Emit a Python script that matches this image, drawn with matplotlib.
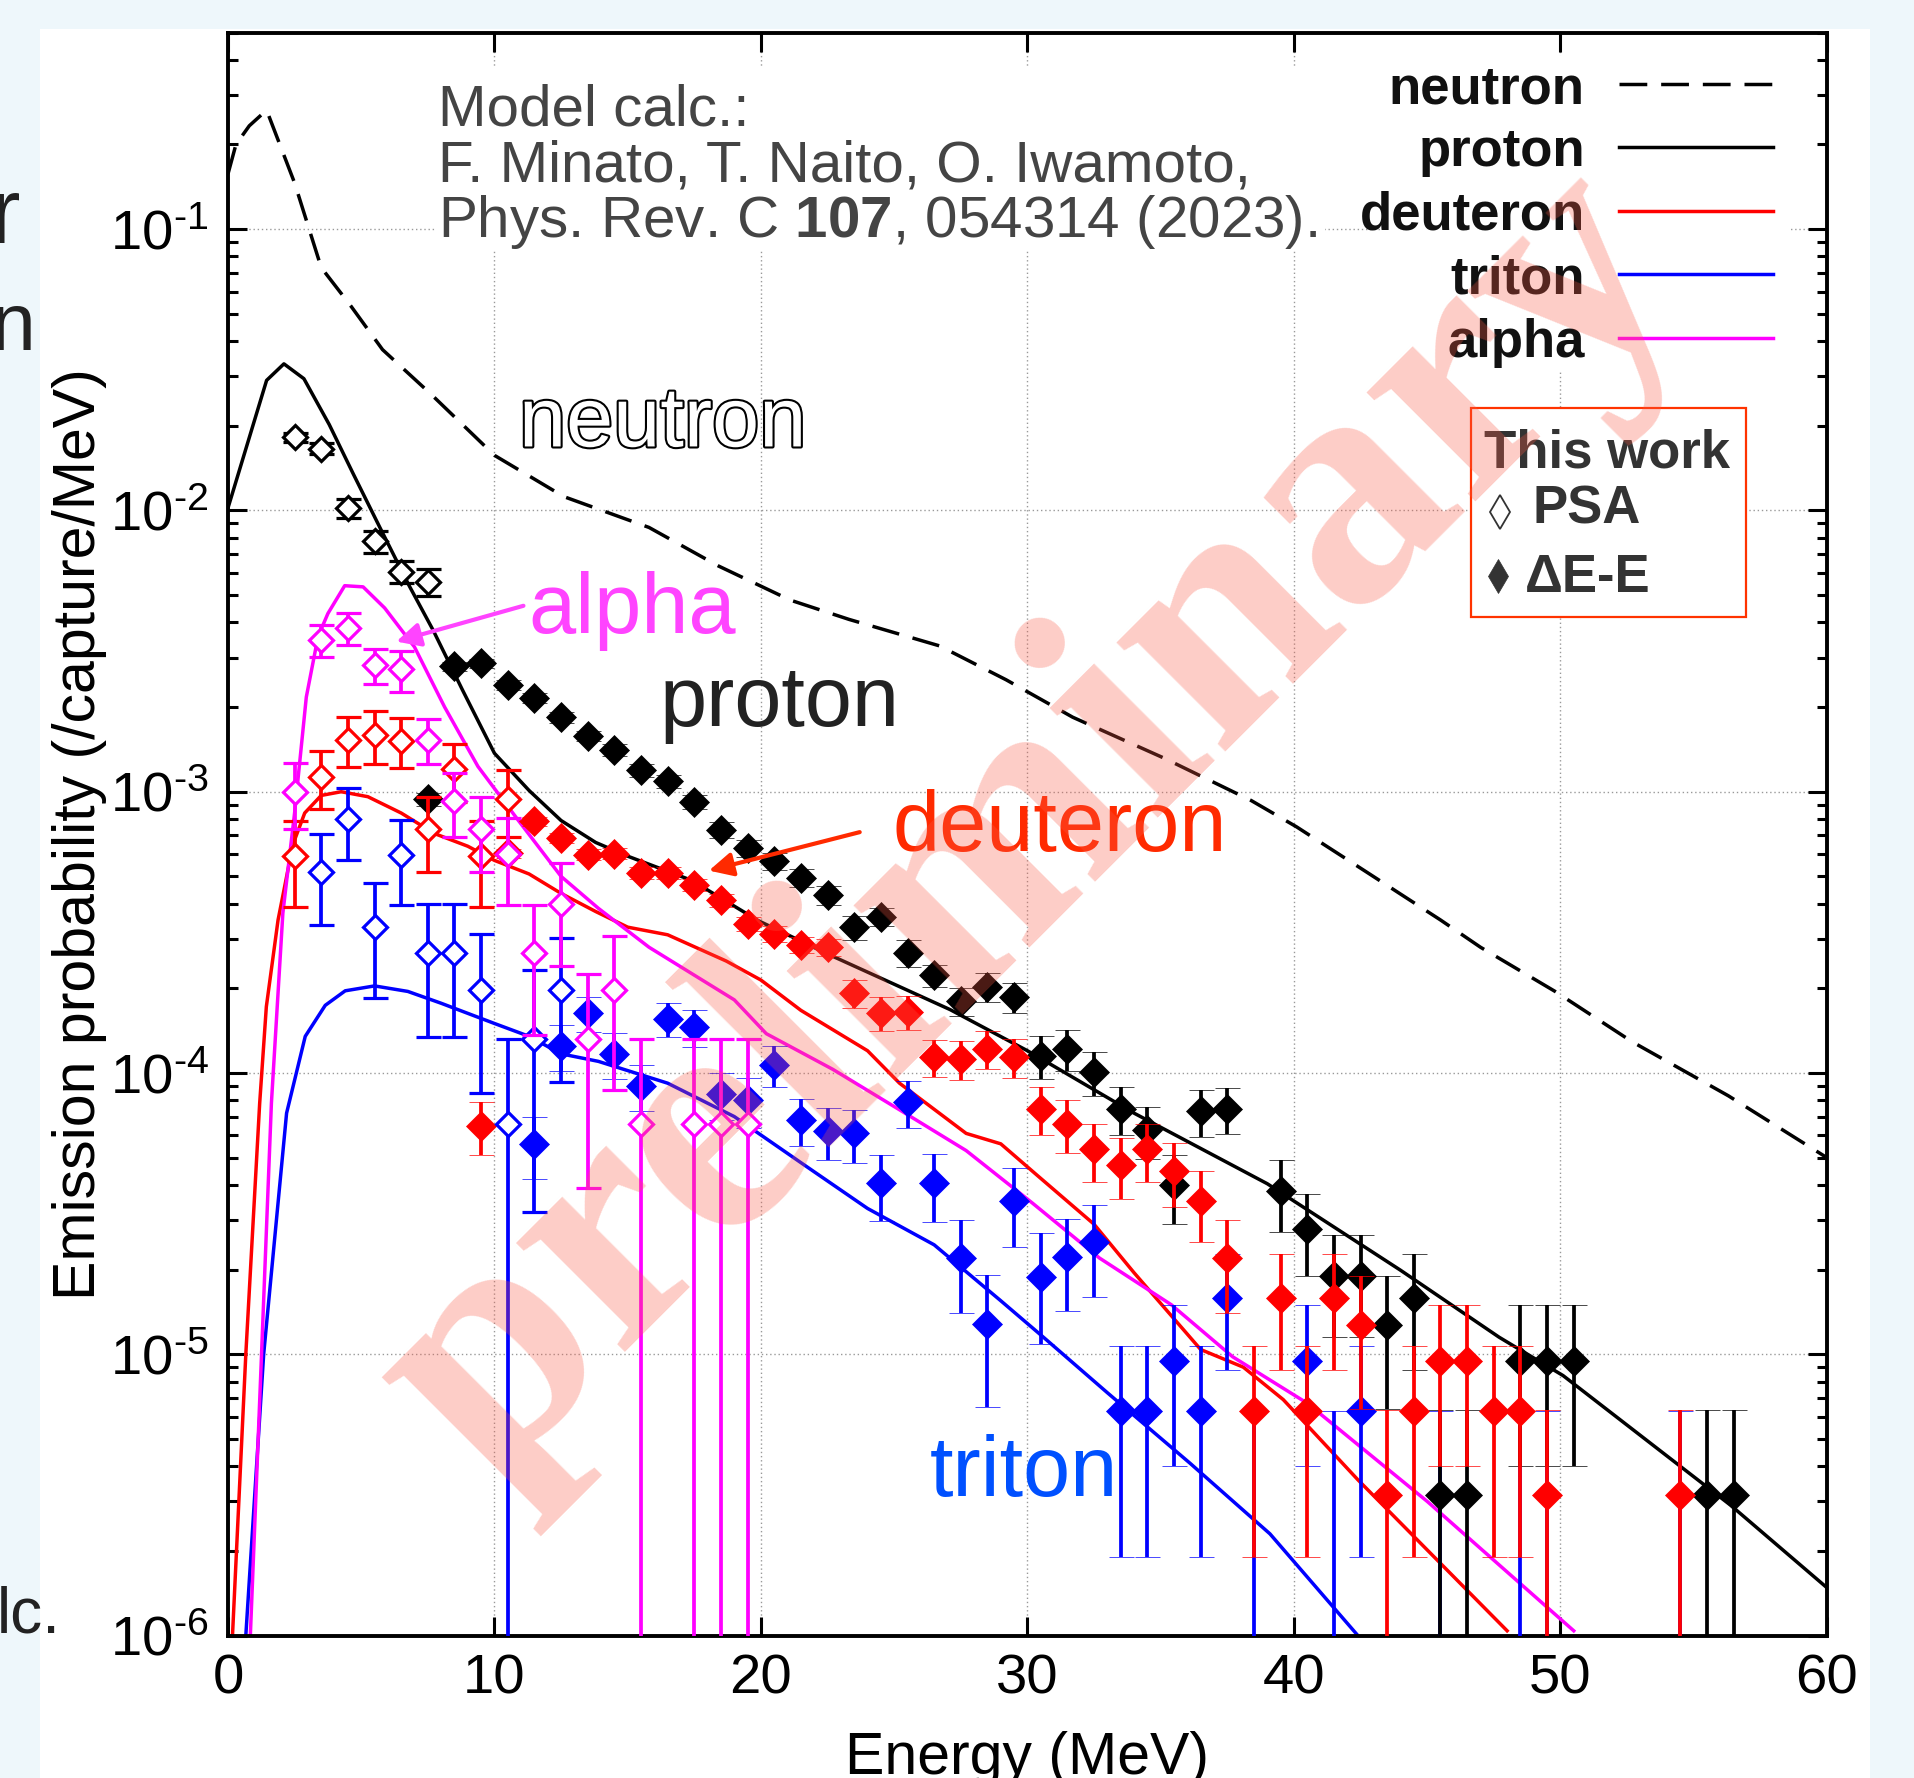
import numpy as np
import matplotlib
matplotlib.use('Agg')
import matplotlib.pyplot as plt
from matplotlib.patches import Rectangle
import matplotlib.patheffects as pe
from matplotlib.ticker import LogLocator, MultipleLocator, NullLocator, FuncFormatter

plt.rcParams['font.family'] = ['Liberation Sans', 'DejaVu Sans']
plt.rcParams['axes.unicode_minus'] = False
plt.rcParams['mathtext.fontset'] = 'custom'
plt.rcParams['mathtext.rm'] = 'Liberation Sans'
plt.rcParams['mathtext.bf'] = 'Liberation Sans:bold'

# ==========================================
# model calculation curves
# ==========================================
neutron_E = [0.0, 0.3, 0.8, 1.45, 2.5, 3.5, 4.6, 5.8, 7.6, 10.0, 12.6, 15.8, 18.4, 21.1, 23.3,
             26.7, 29.2, 31.7, 35.1, 38.4, 40.1, 42.7, 45.5, 47.0, 49.8, 52.7, 56.3, 60.0]
neutron_y = [0.157, 0.20, 0.233, 0.265, 0.146, 0.073, 0.0535, 0.0373, 0.026, 0.0157, 0.0112,
             0.0087, 0.00635, 0.0048, 0.0041, 0.0033, 0.0025, 0.00184, 0.00132, 0.00093,
             0.00075, 0.00052, 0.00035, 0.00028, 0.000195, 0.000129, 0.000083, 0.00005]

proton_E = [0.0, 1.45, 2.1, 2.85, 3.8, 4.7, 5.7, 6.8, 7.7, 8.8, 10.0, 11.3, 12.5, 13.8, 15.0,
            17.4, 19.9, 22.5, 27.1, 30.0, 34.0, 39.0, 44.0, 47.7, 50.1, 56.4, 60.0]
proton_y = [0.0102, 0.029, 0.0332, 0.0294, 0.0202, 0.0135, 0.0087, 0.0054, 0.00375, 0.0023,
            0.00137, 0.00101, 0.00079, 0.00066, 0.00059, 0.000484, 0.000348, 0.000265,
            0.000168, 0.00012, 7.2e-5, 4.04e-5, 1.99e-5, 1.15e-5, 8.4e-6, 2.9e-6, 1.48e-6]

deut_E = [0.17, 0.67, 1.19, 1.44, 1.88, 2.44, 2.88, 3.5, 4.25, 5.25, 6.5, 7.75, 9.0, 10.0, 11.3,
          12.5, 13.8, 15.0, 16.5, 18.7, 20.0, 21.5, 24.0, 25.2, 27.7, 29.0, 30.4, 32.5, 34.0,
          36.5, 38.1, 39.6, 42.4, 48.0]
deut_y = [1e-6, 1.0e-5, 7.8e-5, 1.72e-4, 3.5e-4, 6.5e-4, 8.4e-4, 9.7e-4, 1.0e-3, 9.6e-4, 8.4e-4,
          7.1e-4, 6.4e-4, 5.7e-4, 5.1e-4, 4.35e-4, 3.75e-4, 3.3e-4, 3.1e-4, 2.5e-4, 2.14e-4,
          1.67e-4, 1.2e-4, 9.2e-5, 6.1e-5, 5.6e-5, 4.3e-5, 2.9e-5, 1.95e-5, 1.04e-5, 9.0e-6,
          6.9e-6, 3.58e-6, 1.04e-6]

trit_E = [0.67, 1.34, 2.2, 2.9, 3.65, 4.4, 5.5, 6.75, 8.0, 10.0, 11.3, 12.5, 13.9, 15.0, 16.5,
          19.0, 21.5, 24.0, 26.5, 29.0, 30.6, 33.0, 36.1, 39.1, 42.4]
trit_y = [1e-6, 1e-5, 7.2e-5, 1.35e-4, 1.74e-4, 1.96e-4, 2.04e-4, 1.95e-4, 1.77e-4, 1.5e-4,
          1.35e-4, 1.17e-4, 1.1e-4, 1.02e-4, 9.2e-5, 7.0e-5, 4.8e-5, 3.3e-5, 2.45e-5, 1.55e-5,
          1.15e-5, 7.3e-6, 4.1e-6, 2.3e-6, 1.0e-6]

alpha_E = [0.84, 1.26, 1.63, 2.06, 2.5, 2.94, 3.38, 3.75, 4.38, 5.07, 5.88, 7.0, 8.13, 9.38,
           10.9, 12.5, 13.9, 15.8, 19.0, 20.2, 22.7, 25.2, 27.7, 30.2, 32.7, 35.4, 37.7, 40.5,
           45.0, 50.5]
alpha_y = [1e-6, 1e-5, 7.8e-5, 3.7e-4, 8.4e-4, 2.17e-3, 3.56e-3, 4.3e-3, 5.4e-3, 5.35e-3, 4.5e-3,
           3.27e-3, 2.0e-3, 1.23e-3, 7.9e-4, 5.0e-4, 3.85e-4, 2.8e-4, 1.82e-4, 1.38e-4, 1.03e-4,
           7.4e-5, 5.3e-5, 3.44e-5, 2.2e-5, 1.5e-5, 9.8e-6, 6.7e-6, 3.0e-6, 1.04e-6]

# ==========================================
# this work: PSA (open symbols)
# ==========================================
psa_p_E = [2.5, 3.5, 4.5, 5.5, 6.5, 7.5]
psa_p_y = [0.0182, 0.0166, 0.0102, 0.00776, 0.00605, 0.00557]
psa_p_err = [0.0007, 0.0007, 0.0008, 0.0007, 0.00055, 0.0006]

psa_d_E = [2.5, 3.5, 4.5, 5.5, 6.5, 7.5, 8.5, 9.5, 10.5]
psa_d_y = [5.9e-4, 1.13e-3, 1.53e-3, 1.59e-3, 1.52e-3, 7.4e-4, 1.2e-3, 5.9e-4, 9.4e-4]
psa_d_err = [2.0e-4, 2.6e-4, 3.1e-4, 3.4e-4, 3.1e-4, 2.2e-4, 2.8e-4, 2.0e-4, 2.5e-4]

psa_t_E = [3.5, 4.5, 5.5, 6.5, 7.5, 8.5, 9.5, 10.5, 11.5, 12.5]
psa_t_y = [5.2e-4, 8.0e-4, 3.3e-4, 5.95e-4, 2.67e-4, 2.67e-4, 1.98e-4, 6.6e-5, 1.32e-4, 1.98e-4]
psa_t_err = [1.85e-4, 2.3e-4, 1.45e-4, 2.0e-4, 1.33e-4, 1.33e-4, 1.13e-4, 6.6e-5, 1.0e-4, 1.05e-4]

psa_a_E = [2.5, 3.5, 4.5, 5.5, 6.5, 7.5, 8.5, 9.5, 10.5, 11.5, 12.5, 13.5, 14.5, 15.5, 17.5,
           18.5, 19.5]
psa_a_y = [1.0e-3, 3.47e-3, 3.83e-3, 2.82e-3, 2.72e-3, 1.53e-3, 9.3e-4, 7.4e-4, 6.0e-4, 2.67e-4,
           4.0e-4, 1.32e-4, 1.97e-4, 6.6e-5, 6.6e-5, 6.6e-5, 6.6e-5]
psa_a_err = [2.6e-4, 4.6e-4, 5.0e-4, 4.0e-4, 4.5e-4, 2.8e-4, 2.4e-4, 2.2e-4, 2.05e-4, 1.3e-4,
             1.6e-4, 9.3e-5, 1.1e-4, 6.6e-5, 6.6e-5, 6.6e-5, 6.6e-5]

# ==========================================
# this work: dE-E (filled symbols)
# ==========================================
dee_p_E = [7.5, 8.5, 9.5, 10.5, 11.5, 12.5, 13.5, 14.5, 15.5, 16.5, 17.5, 18.5, 19.5, 20.5, 21.5,
           22.5, 23.5, 24.5, 25.5, 26.5, 27.5, 28.5, 29.5, 30.5, 31.5, 32.5, 33.5, 34.5, 35.5,
           36.5, 37.5, 39.5, 40.5, 41.5, 42.5, 43.5, 44.5, 45.5, 46.5, 48.5, 49.5, 50.5, 55.5,
           56.5]
dee_p_y = [9.4e-4, 2.79e-3, 2.86e-3, 2.4e-3, 2.15e-3, 1.84e-3, 1.58e-3, 1.41e-3, 1.19e-3,
           1.09e-3, 9.2e-4, 7.3e-4, 6.3e-4, 5.65e-4, 4.95e-4, 4.3e-4, 3.3e-4, 3.6e-4, 2.68e-4,
           2.23e-4, 1.8e-4, 2.03e-4, 1.86e-4, 1.15e-4, 1.22e-4, 1.01e-4, 7.45e-5, 6.25e-5,
           4.0e-5, 7.3e-5, 7.45e-5, 3.82e-5, 2.8e-5, 1.9e-5, 1.9e-5, 1.27e-5, 1.58e-5, 3.16e-6,
           3.16e-6, 9.5e-6, 9.5e-6, 9.5e-6, 3.16e-6, 3.16e-6]
dee_p_err = [5e-5, 1.1e-4, 1.1e-4, 1.0e-4, 9e-5, 8e-5, 7e-5, 6.5e-5, 6e-5, 5.5e-5, 5.5e-5,
             4.8e-5, 4.4e-5, 4e-5, 3.6e-5, 3.3e-5, 3.2e-5, 2.6e-5, 2.9e-5, 2.0e-5, 2.0e-5,
             2.4e-5, 2.3e-5, 2.0e-5, 2.0e-5, 1.8e-5, 1.45e-5, 1.3e-5, 1.1e-5, 1.4e-5, 1.4e-5,
             1.1e-5, 9e-6, 7.5e-6, 7.5e-6, 6.3e-6, 7e-6, 3.16e-6, 3.16e-6, 5.5e-6, 5.5e-6,
             5.5e-6, 3.16e-6, 3.16e-6]

dee_d_E = [9.5, 10.5, 11.5, 12.5, 13.5, 14.5, 15.5, 16.5, 17.5, 18.5, 19.5, 20.5, 21.5, 22.5,
           23.5, 24.5, 25.5, 26.5, 27.5, 28.5, 29.5, 30.5, 31.5, 32.5, 33.5, 34.5, 35.5, 36.5,
           37.5, 38.5, 39.5, 40.5, 41.5, 42.5, 43.5, 44.5, 45.5, 46.5, 47.5, 48.5, 49.5, 54.5]
dee_d_y = [6.5e-5, 6.04e-4, 7.85e-4, 6.85e-4, 5.98e-4, 6.03e-4, 5.15e-4, 5.15e-4, 4.66e-4,
           4.11e-4, 3.4e-4, 3.13e-4, 2.85e-4, 2.8e-4, 1.92e-4, 1.64e-4, 1.65e-4, 1.14e-4,
           1.12e-4, 1.22e-4, 1.14e-4, 7.45e-5, 6.6e-5, 5.35e-5, 4.72e-5, 5.35e-5, 4.48e-5,
           3.5e-5, 2.2e-5, 6.3e-6, 1.58e-5, 6.3e-6, 1.58e-5, 1.27e-5, 3.16e-6, 6.3e-6, 9.5e-6,
           9.5e-6, 6.3e-6, 6.3e-6, 3.16e-6, 3.16e-6]
dee_d_err = [1.4e-5, 2.4e-5, 3.0e-5, 2.8e-5, 2.6e-5, 2.6e-5, 2.4e-5, 2.4e-5, 2.3e-5, 2.2e-5,
             2.0e-5, 2.0e-5, 1.9e-5, 1.9e-5, 2.2e-5, 2.25e-5, 2.3e-5, 1.75e-5, 1.75e-5, 1.9e-5,
             1.8e-5, 1.45e-5, 1.4e-5, 1.25e-5, 1.15e-5, 1.25e-5, 1.15e-5, 1.0e-5, 8e-6, 4.4e-6,
             7e-6, 4.4e-6, 7e-6, 6.3e-6, 3.16e-6, 4.4e-6, 5.5e-6, 5.5e-6, 4.4e-6, 4.4e-6,
             3.16e-6, 3.16e-6]

dee_t_E = [11.5, 12.5, 13.5, 14.5, 15.5, 16.5, 17.5, 18.5, 19.5, 20.5, 21.5, 22.5, 23.5, 24.5,
           25.5, 26.5, 27.5, 28.5, 29.5, 30.5, 31.5, 32.5, 33.5, 34.5, 35.5, 36.5, 37.5, 38.5,
           40.5, 41.5, 42.5, 45.5, 48.5, 49.5, 54.5]
dee_t_y = [5.6e-5, 1.25e-4, 1.63e-4, 1.17e-4, 9.0e-5, 1.56e-4, 1.46e-4, 8.4e-5, 8.0e-5, 1.07e-4,
           6.8e-5, 6.2e-5, 6.1e-5, 4.05e-5, 7.9e-5, 4.05e-5, 2.2e-5, 1.28e-5, 3.5e-5, 1.89e-5,
           2.22e-5, 2.5e-5, 6.3e-6, 6.3e-6, 9.5e-6, 6.3e-6, 1.58e-5, 0.0, 9.5e-6, 0.0, 6.3e-6,
           0.0, 0.0, 0.0, 0.0]
dee_t_err = [1.4e-5, 2.3e-5, 2.3e-5, 2.2e-5, 1.65e-5, 2.2e-5, 2.2e-5, 1.6e-5, 1.6e-5, 1.8e-5,
             1.3e-5, 1.3e-5, 1.3e-5, 1.07e-5, 1.5e-5, 1.1e-5, 8e-6, 6.3e-6, 1.1e-5, 8e-6, 8e-6,
             9e-6, 4.4e-6, 4.4e-6, 5.5e-6, 4.4e-6, 7e-6, 6.3e-6, 5.5e-6, 6.3e-6, 4.4e-6,
             6.3e-6, 6.3e-6, 6.3e-6, 6.3e-6]

legend_names = ['neutron', 'proton', 'deuteron', 'triton', 'alpha']

BLACK, RED, BLUE, MAGENTA = '#000000', '#ff0000', '#0000ff', '#ff00ff'
DASH = (0, (8, 4))


def draw_points(ax, E, y, err, color, filled, z):
    if filled:
        ax.errorbar(E, y, yerr=err, fmt='D', ms=15.5, mfc=color, mec=color, mew=0.5,
                    ecolor=color, elinewidth=2.7, capsize=9, capthick=2.7, zorder=z)
    else:
        ax.errorbar(E, y, yerr=err, fmt='D', ms=12, mfc='white', mec=color, mew=2.3,
                    ecolor=color, elinewidth=2.7, capsize=9, capthick=2.7, zorder=z)


def log_label(v, pos):
    e = int(round(np.log10(v)))
    if e < 0:
        return r'$\mathdefault{10^{\text{-}%d}}$' % (-e)
    return r'$\mathdefault{10^{%d}}$' % e


fig = plt.figure(figsize=(19.14, 17.78), dpi=100)
fig.patch.set_facecolor('#eef7fb')
fig.add_artist(Rectangle((40 / 1914, 0), 1830 / 1914, 1749 / 1778, transform=fig.transFigure,
                         facecolor='white', edgecolor='none', zorder=0))

# slide text cut off at the left edge
fig.text(0.0104, 0.8633, 'r', ha='right', va='baseline', fontsize=66, color='#222222')
fig.text(0.0188, 0.8031, 'n', ha='right', va='baseline', fontsize=58, color='#222222')
fig.text(0.0319, 0.0816, 'lc.', ha='right', va='baseline', fontsize=46, color='#222222')

ax = fig.add_axes([0.1191, 0.0801, 0.8354, 0.9016])
ax.set_yscale('log')
ax.set_xlim(0, 60)
ax.set_ylim(1e-6, 0.5)

# model curves
ax.plot(neutron_E, neutron_y, color=BLACK, lw=2.5, ls=DASH, zorder=2)
ax.plot(proton_E, proton_y, color=BLACK, lw=2.5, zorder=2)
ax.plot(deut_E, deut_y, color=RED, lw=2.5, zorder=2)
ax.plot(trit_E, trit_y, color=BLUE, lw=2.5, zorder=2)
ax.plot(alpha_E, alpha_y, color=MAGENTA, lw=2.5, zorder=2)

# data
draw_points(ax, dee_t_E, dee_t_y, dee_t_err, BLUE, True, 3.0)
draw_points(ax, dee_p_E, dee_p_y, dee_p_err, BLACK, True, 3.1)
draw_points(ax, psa_p_E, psa_p_y, psa_p_err, BLACK, False, 3.2)
draw_points(ax, dee_d_E, dee_d_y, dee_d_err, RED, True, 3.3)
draw_points(ax, psa_d_E, psa_d_y, psa_d_err, RED, False, 3.4)
draw_points(ax, psa_t_E, psa_t_y, psa_t_err, BLUE, False, 3.5)
draw_points(ax, psa_a_E, psa_a_y, psa_a_err, MAGENTA, False, 3.6)

# axes styling
ax.xaxis.set_major_locator(MultipleLocator(10))
ax.xaxis.set_minor_locator(NullLocator())
ax.yaxis.set_major_locator(LogLocator(base=10, numticks=20))
ax.yaxis.set_minor_locator(LogLocator(base=10, subs=np.arange(2, 10), numticks=20))
ax.yaxis.set_major_formatter(FuncFormatter(log_label))
ax.tick_params(which='both', direction='in', top=True, right=True, width=2.2)
ax.tick_params(which='major', length=14, labelsize=40.5)
ax.tick_params(which='minor', length=7)
ax.tick_params(axis='x', pad=13)
ax.tick_params(axis='y', pad=14)
ax.grid(True, which='major', color='#999999', linestyle=(0, (1, 2)), linewidth=1.0)
ax.set_axisbelow(True)
for s in ax.spines.values():
    s.set_linewidth(2.8)

ax.set_xlabel('Energy (MeV)', fontsize=42.5)
ax.xaxis.set_label_coords(0.5, -0.0596)
ax.set_ylabel('Emission probability (/capture/MeV)', fontsize=42.5)
ax.yaxis.set_label_coords(-0.0757, 0.5)

# white boxes behind the text blocks
ax.add_patch(Rectangle((0.1295, 0.8643), 0.5565, 0.1147, transform=ax.transAxes,
                       facecolor='white', edgecolor='none', zorder=1))
ax.add_patch(Rectangle((0.7205, 0.788), 0.2565, 0.1973, transform=ax.transAxes,
                       facecolor='white', edgecolor='none', zorder=1))

# model reference
ref_kw = dict(transform=ax.transAxes, fontsize=42, color='#444444', va='baseline', ha='left',
              zorder=6)
ax.text(0.1316, 0.9419, 'Model calc.:', **ref_kw)
ax.text(0.1316, 0.9072, 'F. Minato, T. Naito, O. Iwamoto,', **ref_kw)
ax.text(0.1316, 0.8726, r'Phys. Rev. C $\mathbf{107}$, 054314 (2023).', **ref_kw)

# legend of the model curves
leg_styles = [(BLACK, DASH), (BLACK, '-'), (RED, '-'), (BLUE, '-'), (MAGENTA, '-')]
for i, (name, (c, ls)) in enumerate(zip(legend_names, leg_styles)):
    yb = 0.956 - i * 0.03955
    ax.text(0.8486, yb, name, transform=ax.transAxes, ha='right', va='baseline', fontsize=38,
            fontweight='bold', color='#111111', zorder=6)
    ax.plot([0.870, 0.966], [yb + 0.0119] * 2, transform=ax.transAxes, color=c, ls=ls, lw=2.5,
            zorder=6, clip_on=False)

# "This work" box
ax.add_patch(Rectangle((0.7777, 0.6354), 0.1714, 0.1301, transform=ax.transAxes,
                       facecolor='white', edgecolor='#ff3300', lw=1.6, zorder=6))
tw_kw = dict(transform=ax.transAxes, fontsize=38, fontweight='bold', color='#333333',
             va='baseline', ha='left', zorder=7)
ax.text(0.7855, 0.7285, 'This work', **tw_kw)
ax.text(0.8161, 0.694, 'PSA', **tw_kw)
ax.text(0.8111, 0.651, 'ΔE-E', **tw_kw)
ax.plot([0.7953], [0.7007], transform=ax.transAxes, marker='d', ms=17, mfc='white',
        mec='#333333', mew=1.3, zorder=7, clip_on=False)
ax.plot([0.7941], [0.6610], transform=ax.transAxes, marker='d', ms=17, mfc='#333333',
        mec='#333333', mew=0.5, zorder=7, clip_on=False)

# big labels
lab_kw = dict(transform=ax.transAxes, fontsize=61, va='baseline', ha='left', zorder=8)
ax.text(0.1820, 0.7418, 'neutron', color='white',
        path_effects=[pe.withStroke(linewidth=3, foreground='black')], **lab_kw)
ax.text(0.1876, 0.6256, 'alpha', color='#ff44ff', **lab_kw)
ax.text(0.2700, 0.5672, 'proton', color='#222222', **lab_kw)
ax.text(0.4155, 0.4892, 'deuteron', color='#ff2a00', **lab_kw)
ax.text(0.4390, 0.0873, 'triton', color='#0050ff', **lab_kw)
ax.annotate('', xy=(0.1053, 0.6201), xytext=(0.1848, 0.6424), xycoords='axes fraction',
            arrowprops=dict(arrowstyle='-|>', color='#ff44ff', lw=3, mutation_scale=36,
                            shrinkA=0, shrinkB=0), zorder=8)
ax.annotate('', xy=(0.3008, 0.4772), xytext=(0.3951, 0.5012), xycoords='axes fraction',
            arrowprops=dict(arrowstyle='-|>', color='#ff2a00', lw=3, mutation_scale=36,
                            shrinkA=0, shrinkB=0), zorder=8)

# watermark
ax.text(0.5033, 0.5047, 'preliminary', transform=ax.transAxes, ha='center', va='center',
        rotation=45, rotation_mode='anchor', fontsize=241, family='Liberation Serif',
        fontweight='bold', color=(250 / 255, 90 / 255, 70 / 255), alpha=0.3, zorder=20)

fig.savefig('out.png', dpi=100, facecolor=fig.get_facecolor())
